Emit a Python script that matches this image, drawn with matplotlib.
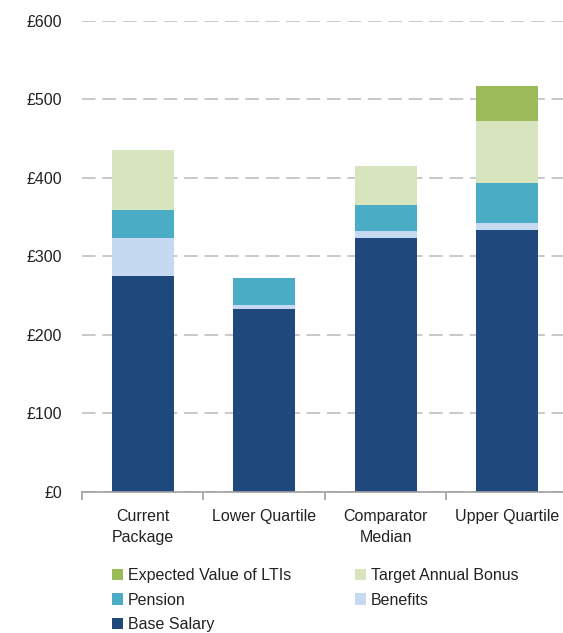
import matplotlib
matplotlib.use("Agg")
import matplotlib.pyplot as plt
import numpy as np
from matplotlib.patches import Patch

categories = ["Current\nPackage", "Lower Quartile", "Comparator\nMedian", "Upper Quartile"]
base_salary = [275, 233, 323, 333]
benefits = [48, 5, 9, 10]
pension = [36, 34, 34, 51]
bonus = [76, 0, 49, 78]
ltis = [0, 0, 0, 45]
yticks = [0, 100, 200, 300, 400, 500, 600]
ytick_labels = ["£0", "£100", "£200", "£300", "£400", "£500", "£600"]

series = [
    ("Base Salary", base_salary, "#1F497D"),
    ("Benefits", benefits, "#C5D9F1"),
    ("Pension", pension, "#4BACC6"),
    ("Target Annual Bonus", bonus, "#D7E4BD"),
    ("Expected Value of LTIs", ltis, "#9BBB59"),
]

plt.rcParams['font.family'] = ['Liberation Sans', 'DejaVu Sans']
txt = "#222222"
fs = 11.5

fig = plt.figure(figsize=(5.63, 6.33), dpi=100)
ax = fig.add_axes([82/563, (633-492)/633, 1 - 82/563, (492-20.7)/633])

x = np.arange(len(categories))
bottom = np.zeros(len(categories))
handles = {}
for name, vals, col in series:
    v = np.array(vals, dtype=float)
    ax.bar(x, v, width=0.51, bottom=bottom, color=col, zorder=3, linewidth=0)
    handles[name] = Patch(facecolor=col, edgecolor='none')
    bottom += v

ax.set_ylim(0, 600)
ax.set_xlim(-0.5, 3.5 - 5/121.6)
ax.set_yticks(yticks)
ax.set_yticklabels(ytick_labels, fontsize=fs, color=txt)
ax.yaxis.grid(True, color="#c8c8c8", linestyle=(0, (7, 3.5)), linewidth=1.4, zorder=0)
ax.tick_params(axis='y', length=0, pad=14.5)

ax.set_xticks(x)
ax.set_xticklabels(categories, fontsize=fs, color=txt, linespacing=1.5)
ax.tick_params(axis='x', length=0, pad=12)
ax.set_xticks([-0.5, 0.5, 1.5, 2.5], minor=True)
ax.tick_params(axis='x', which='minor', length=6, width=1.2, color="#a0a0a0", direction='out')

for s in ['top', 'right', 'left']:
    ax.spines[s].set_visible(False)
ax.spines['bottom'].set_color("#a0a0a0")
ax.spines['bottom'].set_linewidth(1.2)
ax.spines['bottom'].set_zorder(4)

order = ["Expected Value of LTIs", "Pension", "Base Salary", "Target Annual Bonus", "Benefits"]
leg = fig.legend([handles[n] for n in order], order, ncol=2, loc='upper left',
                 bbox_to_anchor=(112/563, 1 - 568/633), frameon=False, fontsize=fs,
                 handlelength=0.7, handleheight=0.7, handletextpad=0.3,
                 columnspacing=4.0, labelspacing=0.6, borderaxespad=0, borderpad=0)
for t in leg.get_texts():
    t.set_color(txt)

fig.savefig("out.png", dpi=100)
